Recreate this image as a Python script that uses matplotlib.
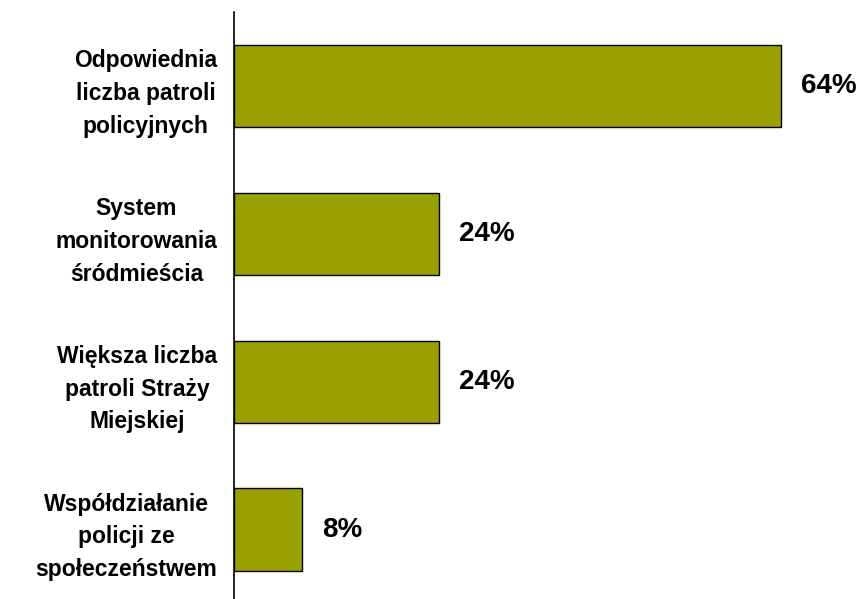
import matplotlib
matplotlib.use("Agg")
import matplotlib.pyplot as plt

categories = [
    "Odpowiednia\nliczba patroli\npolicyjnych",
    "System\nmonitorowania\nśródmieścia",
    "Większa liczba\npatroli Straży\nMiejskiej",
    "Współdziałanie\npolicji ze\nspołeczeństwem",
]
values = [64, 24, 24, 8]
value_labels = ["64%", "24%", "24%", "8%"]

plt.rcParams["font.family"] = ["Liberation Sans", "DejaVu Sans"]

fig = plt.figure(figsize=(8.65, 5.99), dpi=100)
ax = fig.add_axes([234 / 865, 0, 631 / 865, 587 / 599])

ypos = range(len(categories))
ax.barh(ypos, values, height=0.555, color="#99A000", edgecolor="black", linewidth=1)

for y, v, lab in zip(ypos, values, value_labels):
    ax.text(v + 2.3, y, lab, va="center", ha="left", fontsize=20, fontweight="bold")

ax.set_xlim(0, 631 / 8.55)
ax.set_ylim(3.47, -0.50)
ax.set_xticks([])
ax.set_yticks(list(ypos))
ax.set_yticklabels(categories, fontsize=16.5, fontweight="bold", linespacing=1.55)
for t in ax.get_yticklabels():
    t.set_multialignment("center")
ax.tick_params(axis="y", length=0, pad=12)

for s in ["top", "right", "bottom"]:
    ax.spines[s].set_visible(False)
ax.spines["left"].set_linewidth(1.2)

fig.savefig("out.png", dpi=100)
